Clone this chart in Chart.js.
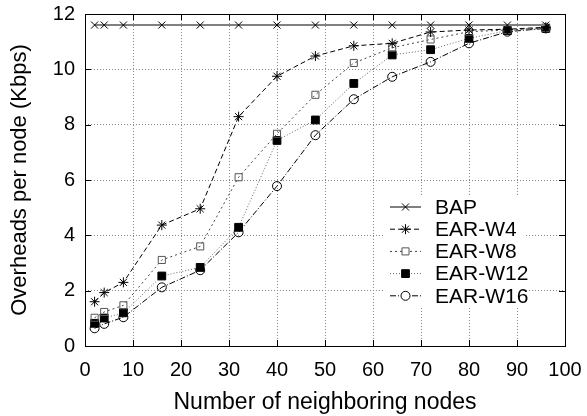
<!DOCTYPE html>
<html>
<head>
<meta charset="utf-8">
<script src="https://cdn.jsdelivr.net/npm/chart.js@4/dist/chart.umd.min.js"></script>
<style>
html,body{margin:0;padding:0;background:#fff;}
#wrap{width:587px;height:416px;position:relative;}
</style>
</head>
<body>
<div id="wrap"><canvas id="c" width="587" height="416"></canvas></div>
<script>
const nodes = [2, 4, 8, 16, 24, 32, 40, 48, 56, 64, 72, 80, 88, 96];
const seriesNames = ["BAP", "EAR-W4", "EAR-W8", "EAR-W12", "EAR-W16"];
const bap   = [11.6, 11.6, 11.6, 11.6, 11.6, 11.6, 11.6, 11.6, 11.6, 11.6, 11.6, 11.6, 11.6, 11.6];
const earW4  = [1.60, 1.93, 2.30, 4.37, 4.96, 8.29, 9.75, 10.48, 10.85, 10.94, 11.35, 11.42, 11.45, 11.52];
const earW8  = [1.02, 1.23, 1.47, 3.11, 3.60, 6.10, 7.67, 9.08, 10.23, 10.78, 11.08, 11.36, 11.42, 11.5];
const earW12 = [0.82, 1.01, 1.20, 2.53, 2.84, 4.29, 7.43, 8.17, 9.49, 10.52, 10.71, 11.12, 11.40, 11.48];
const earW16 = [0.64, 0.80, 1.04, 2.12, 2.74, 4.11, 5.78, 7.62, 8.92, 9.73, 10.27, 10.94, 11.36, 11.48];
const xTicks = [0, 10, 20, 30, 40, 50, 60, 70, 80, 90, 100];
const yTicks = [0, 2, 4, 6, 8, 10, 12];

const FONT = "'Liberation Sans', Arial, Helvetica, sans-serif";

const styles = [
  {color: '#808080', dash: [], width: 2, point: 'crossRot', fill: 'transparent', r: 5},
  {color: '#000000', dash: [5, 3], width: 1, point: 'star', fill: 'transparent', r: 5},
  {color: '#444444', dash: [2, 3], width: 1, point: 'rect', fill: 'transparent', r: 5},
  {color: '#666666', dash: [1, 2], width: 1, point: 'rect', fill: '#000000', r: 5.5},
  {color: '#000000', dash: [6, 2, 1, 2], width: 1, point: 'circle', fill: 'transparent', r: 4.5},
];
const allSeries = [bap, earW4, earW8, earW12, earW16];

const datasets = allSeries.map((vals, i) => ({
  label: seriesNames[i],
  data: nodes.map((n, j) => ({x: n, y: vals[j]})),
  borderColor: styles[i].color,
  borderWidth: styles[i].width,
  borderDash: styles[i].dash,
  pointStyle: styles[i].point,
  pointRadius: styles[i].r,
  pointBorderColor: i === 2 ? '#555555' : '#000000',
  pointBackgroundColor: styles[i].fill,
  pointBorderWidth: 1,
  tension: 0,
  fill: false,
}));

const framePlugin = {
  id: 'frame',
  afterDraw(chart) {
    const {ctx, chartArea: a} = chart;
    const xs = chart.scales.x, ys = chart.scales.y;
    ctx.save();
    ctx.strokeStyle = '#000';
    ctx.lineWidth = 1;
    ctx.setLineDash([]);
    ctx.strokeRect(Math.round(a.left) + 0.5, Math.round(a.top) + 0.5, Math.round(a.right - a.left), Math.round(a.bottom - a.top));
    // inward ticks
    ctx.beginPath();
    xTicks.forEach(v => {
      const px = Math.round(xs.getPixelForValue(v)) + 0.5;
      ctx.moveTo(px, a.bottom); ctx.lineTo(px, a.bottom - 6);
      ctx.moveTo(px, a.top); ctx.lineTo(px, a.top + 6);
    });
    yTicks.forEach(v => {
      const py = Math.round(ys.getPixelForValue(v)) + 0.5;
      ctx.moveTo(a.left, py); ctx.lineTo(a.left + 6, py);
      ctx.moveTo(a.right, py); ctx.lineTo(a.right - 6, py);
    });
    ctx.stroke();

    // legend inside plot
    const lx0 = 385, ly0 = 195, lw = 141, lh = 112;
    ctx.fillStyle = '#fff';
    ctx.fillRect(lx0, ly0, lw, lh);
    chart.data.datasets.forEach((ds, i) => {
      const y = 207 + i * 22.2;
      ctx.save();
      ctx.strokeStyle = ds.borderColor;
      ctx.lineWidth = ds.borderWidth;
      ctx.setLineDash(ds.borderDash);
      ctx.beginPath();
      ctx.moveTo(390, y); ctx.lineTo(421, y);
      ctx.stroke();
      ctx.restore();
      ctx.save();
      ctx.strokeStyle = ds.pointBorderColor;
      ctx.fillStyle = ds.pointBackgroundColor === 'transparent' ? '#fff' : ds.pointBackgroundColor;
      ctx.lineWidth = 1;
      Chart.helpers.drawPoint(ctx, {pointStyle: ds.pointStyle, radius: ds.pointRadius, borderWidth: 1}, 405.5, y);
      ctx.restore();
      ctx.fillStyle = '#000';
      ctx.font = '21px ' + FONT;
      ctx.textBaseline = 'middle';
      ctx.textAlign = 'left';
      ctx.fillText(ds.label, 435, y + 1);
    });
    ctx.restore();
  }
};

new Chart(document.getElementById('c'), {
  type: 'line',
  data: {datasets},
  options: {
    responsive: false,
    animation: false,
    devicePixelRatio: 1,
    layout: {padding: {left: 0, right: 22, top: 14, bottom: 0}},
    plugins: {legend: {display: false}, tooltip: {enabled: false}},
    scales: {
      x: {
        type: 'linear', min: 0, max: 100,
        afterBuildTicks: s => { s.ticks = xTicks.map(v => ({value: v})); },
        afterFit: s => { s.height = 70; s.paddingLeft = 0; s.paddingRight = 0; },
        grid: {color: '#888', lineWidth: 1, drawTicks: false},
        border: {display: false, dash: [1, 2]},
        ticks: {color: '#000', font: {family: FONT, size: 20}, padding: 12, maxRotation: 0, autoSkip: false},
        title: {display: true, text: 'Number of neighboring nodes', color: '#000', font: {family: FONT, size: 23}, padding: {top: 0, bottom: 0}},
      },
      y: {
        type: 'linear', min: 0, max: 12,
        afterBuildTicks: s => { s.ticks = yTicks.map(v => ({value: v})); },
        afterFit: s => { s.width = 85; s.paddingTop = 0; s.paddingBottom = 0; },
        grid: {color: '#888', lineWidth: 1, drawTicks: false},
        border: {display: false, dash: [1, 2]},
        ticks: {color: '#000', font: {family: FONT, size: 20}, padding: 10, autoSkip: false},
        title: {display: true, text: 'Overheads per node (Kbps)', color: '#000', font: {family: FONT, size: 22}, padding: {top: 7, bottom: 0}},
      }
    }
  },
  plugins: [framePlugin]
});
</script>
</body>
</html>
